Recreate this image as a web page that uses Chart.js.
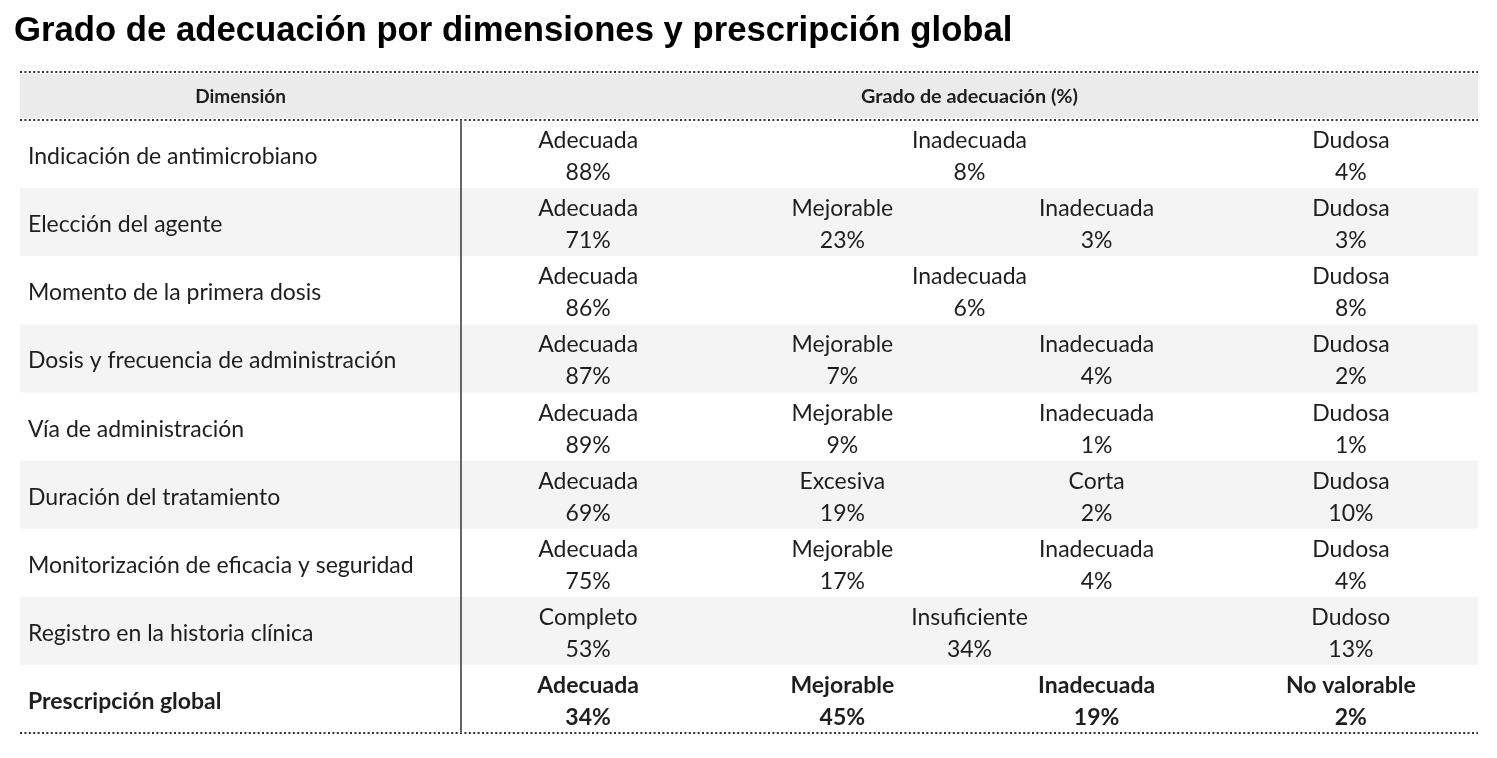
<!DOCTYPE html>
<html>
<head>
<meta charset="utf-8">
<script src="https://cdn.jsdelivr.net/npm/chart.js@4.4.0/dist/chart.umd.min.js"></script>
<style>
    html, body { margin: 0; padding: 0; background: #fff; }
    #wrap { width: 1497px; height: 758px; }
</style>
</head>
<body>
<div id="wrap"><canvas id="tabla"></canvas></div>
<script>
var titulo = 'Grado de adecuación por dimensiones y prescripción global';
var cabeceras = ['Dimensión', 'Grado de adecuación (%)'];
var dimensiones = [
    'Indicación de antimicrobiano',
    'Elección del agente',
    'Momento de la primera dosis',
    'Dosis y frecuencia de administración',
    'Vía de administración',
    'Duración del tratamiento',
    'Monitorización de eficacia y seguridad',
    'Registro en la historia clínica',
    'Prescripción global'
];
// null = the cell on the left spans this column too
var etiquetas = [
    ['Adecuada', 'Inadecuada', null, 'Dudosa'],
    ['Adecuada', 'Mejorable', 'Inadecuada', 'Dudosa'],
    ['Adecuada', 'Inadecuada', null, 'Dudosa'],
    ['Adecuada', 'Mejorable', 'Inadecuada', 'Dudosa'],
    ['Adecuada', 'Mejorable', 'Inadecuada', 'Dudosa'],
    ['Adecuada', 'Excesiva', 'Corta', 'Dudosa'],
    ['Adecuada', 'Mejorable', 'Inadecuada', 'Dudosa'],
    ['Completo', 'Insuficiente', null, 'Dudoso'],
    ['Adecuada', 'Mejorable', 'Inadecuada', 'No valorable']
];
var porcentajes = [
    [88, 8, null, 4],
    [71, 23, 3, 3],
    [86, 6, null, 8],
    [87, 7, 4, 2],
    [89, 9, 1, 1],
    [69, 19, 2, 10],
    [75, 17, 4, 4],
    [53, 34, null, 13],
    [34, 45, 19, 2]
];

var anchoDimension = 1.7345;   // width of the first column, in value-column units
var altoCabecera = 0.705;      // header height, in row units
var fuente = 'Lato, "Open Sans", sans-serif';

var celdas = [];
etiquetas.forEach(function (fila, r) {
    fila.forEach(function (et, c) {
        if (et === null) return;
        var span = (c + 1 < fila.length && fila[c + 1] === null) ? 2 : 1;
        celdas.push({ x: c + span / 2, y: r + 0.5, etiqueta: et, valor: porcentajes[r][c] + '%', negrita: r === dimensiones.length - 1 });
    });
});
var filas = dimensiones.map(function (d, r) {
    return { x: -anchoDimension, y: r + 0.5, etiqueta: d, negrita: r === dimensiones.length - 1 };
});

var tablaPlugin = {
    id: 'tabla',
    beforeDatasetsDraw: function (chart) {
        var ctx = chart.ctx, xs = chart.scales.x, ys = chart.scales.y;
        var izq = xs.getPixelForValue(-anchoDimension), der = xs.getPixelForValue(4);
        var sep = xs.getPixelForValue(0);
        ctx.save();
        // header
        ctx.fillStyle = '#ebebeb';
        ctx.fillRect(izq, ys.getPixelForValue(-altoCabecera) + 2, der - izq, ys.getPixelForValue(0) - ys.getPixelForValue(-altoCabecera) - 4);
        // zebra rows
        ctx.fillStyle = '#f4f4f4';
        for (var r = 1; r < dimensiones.length; r += 2) {
            var y0 = ys.getPixelForValue(r), y1 = ys.getPixelForValue(r + 1);
            ctx.fillRect(izq, y0, der - izq, y1 - y0);
        }
        // dotted rules
        ctx.strokeStyle = '#333';
        ctx.lineWidth = 2;
        ctx.setLineDash([2, 2.4]);
        [-altoCabecera, 0, dimensiones.length].forEach(function (v) {
            var y = Math.round(ys.getPixelForValue(v));
            ctx.beginPath();
            ctx.moveTo(izq, y);
            ctx.lineTo(der, y);
            ctx.stroke();
        });
        // vertical separator
        ctx.setLineDash([]);
        ctx.strokeStyle = '#666';
        ctx.beginPath();
        ctx.moveTo(sep, ys.getPixelForValue(0));
        ctx.lineTo(sep, ys.getPixelForValue(dimensiones.length));
        ctx.stroke();

        // header texts
        ctx.fillStyle = '#1e1e1e';
        ctx.textAlign = 'center';
        ctx.textBaseline = 'alphabetic';
        var yc = ys.getPixelForValue(-altoCabecera / 2) + 7;
        ctx.font = 'bold 19px ' + fuente;
        ctx.fillText(cabeceras[0], (izq + sep) / 2, yc);
        ctx.font = 'bold 19.8px ' + fuente;
        ctx.fillText(cabeceras[1], (sep + der) / 2, yc);

        // title
        ctx.fillStyle = '#000';
        ctx.textAlign = 'left';
        ctx.font = 'bold 34.7px "Liberation Sans", Arial, sans-serif';
        ctx.fillText(titulo, 14, 41);
        ctx.restore();
    },
    afterDatasetsDraw: function (chart) {
        var ctx = chart.ctx;
        ctx.save();
        ctx.fillStyle = '#1e1e1e';
        ctx.textBaseline = 'alphabetic';
        chart.getDatasetMeta(0).data.forEach(function (pt, i) {
            var d = celdas[i];
            ctx.font = (d.negrita ? 'bold ' : '') + '23px ' + fuente;
            ctx.textAlign = 'center';
            ctx.fillText(d.etiqueta, pt.x, pt.y - 6);
            ctx.fillText(d.valor, pt.x, pt.y + 26);
        });
        chart.getDatasetMeta(1).data.forEach(function (pt, i) {
            var d = filas[i];
            ctx.font = (d.negrita ? 'bold ' : '') + '23px ' + fuente;
            ctx.textAlign = 'left';
            ctx.fillText(d.etiqueta, pt.x + 8, pt.y + 10);
        });
        ctx.restore();
    }
};

window.onload = function () {
    var ctx = document.getElementById('tabla').getContext('2d');
    new Chart(ctx, {
        type: 'scatter',
        data: {
            datasets: [
                { label: 'Grado de adecuación', data: celdas, pointRadius: 0, pointHoverRadius: 0 },
                { label: 'Dimensión', data: filas, pointRadius: 0, pointHoverRadius: 0 }
            ]
        },
        options: {
            responsive: true,
            maintainAspectRatio: false,
            animation: false,
            events: [],
            layout: { padding: { left: 20, right: 19, top: 72, bottom: 25 } },
            plugins: { legend: { display: false }, tooltip: { enabled: false }, title: { display: false } },
            scales: {
                x: { type: 'linear', display: false, min: -anchoDimension, max: 4 },
                y: { type: 'linear', display: false, min: -altoCabecera, max: dimensiones.length, reverse: true }
            }
        },
        plugins: [tablaPlugin]
    });
};
</script>
</body>
</html>
